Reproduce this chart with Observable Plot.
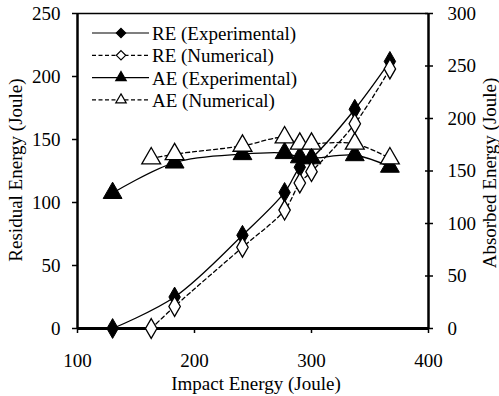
<!DOCTYPE html>
<html>
<head>
<meta charset="utf-8">
<script src="https://cdn.jsdelivr.net/npm/d3@7"></script>
<script src="https://cdn.jsdelivr.net/npm/@observablehq/plot@0.6"></script>
<style>
  body { margin: 0; background: #fff; }
  svg { font-family: "Liberation Serif", "Times New Roman", serif; }
</style>
</head>
<body>
<div id="chart"></div>
<script>
// Impact tests: residual energy (left axis) and absorbed energy (right axis)
const impactExp = [130, 183, 241, 277, 290, 300, 337, 367];
const impactNum = [163, 183, 241, 277, 290, 300, 337, 367];
const residualExp = [0, 25, 74, 108, 128, 135, 174, 212];
const residualNum = [0, 17.5, 64.5, 94, 115.5, 124.5, 162.5, 206];
const absorbedExp = [129, 158, 166, 167, 163, 162, 165, 154];
const absorbedNum = [162, 166, 174, 182, 176, 176, 176, 162];

const xTicks = [100, 200, 300, 400];
const leftTicks = [0, 50, 100, 150, 200, 250];
const rightTicks = [0, 50, 100, 150, 200, 250, 300];
const seriesNames = ["RE (Experimental)", "RE (Numerical)", "AE (Experimental)", "AE (Numerical)"];

// right axis values are drawn on the left scale, 300 on the right = 250 on the left
const k = 250 / 300;

const toRows = (name, xs, ys, scale) => xs.map((x, i) => ({series: name, x, y: ys[i] * scale}));
const reExp = toRows(seriesNames[0], impactExp, residualExp, 1);
const reNum = toRows(seriesNames[1], impactNum, residualNum, 1);
const aeExp = toRows(seriesNames[2], impactExp, absorbedExp, k);
const aeNum = toRows(seriesNames[3], impactNum, absorbedNum, k);

const dash = "4,3";
const lw = 1.3;
const serif = "'Liberation Serif', 'Times New Roman', serif";

const chart = Plot.plot({
  width: 499,
  height: 396,
  marginLeft: 77,
  marginRight: 71,
  marginTop: 13,
  marginBottom: 68,
  style: {fontFamily: serif, fontSize: "19px", color: "black", background: "white"},
  x: {domain: [100, 400]},
  y: {domain: [0, 250]},
  marks: [
    // axes
    Plot.axisX(xTicks, {anchor: "bottom", tickSize: 5, tickPadding: 20, label: null, strokeWidth: 1.5}),
    Plot.axisY(leftTicks, {anchor: "left", tickSize: 5, tickPadding: 12, label: null, strokeWidth: 1.5}),
    Plot.axisY(rightTicks.map(v => v * k), {
      anchor: "right", tickSize: 8, dx: -4, tickPadding: 15, label: null, strokeWidth: 1.5,
      tickFormat: v => String(Math.round(v / k))
    }),
    // frame
    Plot.ruleY([250], {stroke: "black", strokeWidth: 1.3}),
    Plot.ruleX([100, 400], {stroke: "black", strokeWidth: 2.5}),
    Plot.ruleY([0], {stroke: "black", strokeWidth: 3}),
    // axis titles
    Plot.text(["Impact Energy (Joule)"], {frameAnchor: "bottom", dy: 61, dx: 3, lineAnchor: "bottom", fontSize: 19, fill: "black"}),
    Plot.text(["Residual Energy (Joule)"], {frameAnchor: "left", textAnchor: "middle", rotate: -90, dx: -62, dy: -1, lineAnchor: "middle", fontSize: 19, fill: "black"}),
    Plot.text(["Absorbed Energy (Joule)"], {frameAnchor: "right", textAnchor: "middle", rotate: -90, dx: 61, dy: 2, lineAnchor: "middle", fontSize: 19, fill: "black"}),
    // smoothed lines
    Plot.line(aeExp, {x: "x", y: "y", curve: "catmull-rom", stroke: "black", strokeWidth: lw}),
    Plot.line(aeNum, {x: "x", y: "y", curve: "catmull-rom", stroke: "black", strokeWidth: lw, strokeDasharray: dash}),
    Plot.line(reExp, {x: "x", y: "y", curve: "catmull-rom", stroke: "black", strokeWidth: lw}),
    Plot.line(reNum, {x: "x", y: "y", curve: "catmull-rom", stroke: "black", strokeWidth: lw, strokeDasharray: dash}),
    // markers
    Plot.dot(aeExp, {x: "x", y: "y", symbol: "triangle", r: 7, fill: "black", stroke: "black", strokeWidth: 1}),
    Plot.dot(aeNum, {x: "x", y: "y", symbol: "triangle", r: 7, fill: "white", stroke: "black", strokeWidth: 1.3}),
    Plot.dot(reExp, {x: "x", y: "y", symbol: "diamond", r: 6, fill: "black", stroke: "black", strokeWidth: 1}),
    Plot.dot(reNum, {x: "x", y: "y", symbol: "diamond", r: 6, fill: "white", stroke: "black", strokeWidth: 1.3})
  ]
});

// legend in the upper-left corner of the plot area
const legendStyles = [
  {dash: null, symbol: d3.symbolDiamond2, r: 4.2, fill: "black"},
  {dash: "4,2.5", symbol: d3.symbolDiamond2, r: 4.2, fill: "white"},
  {dash: null, symbol: d3.symbolTriangle2, r: 5, fill: "black"},
  {dash: "4,2.5", symbol: d3.symbolTriangle2, r: 5, fill: "white"}
];
const ml = 77, mt = 13;
const legend = d3.select(chart).append("g").attr("class", "legend")
  .attr("text-anchor", "start").attr("font-family", serif);
seriesNames.forEach((name, i) => {
  const s = legendStyles[i];
  const cy = mt + 20 + i * 22.3;
  const row = legend.append("g").attr("transform", `translate(${ml},${cy})`);
  row.append("line")
    .attr("x1", 15).attr("x2", 72).attr("y1", 0).attr("y2", 0)
    .attr("stroke", "black").attr("stroke-width", 1.2)
    .attr("stroke-dasharray", s.dash);
  row.append("path")
    .attr("transform", "translate(44,0)")
    .attr("d", d3.symbol(s.symbol, Math.PI * s.r * s.r)())
    .attr("fill", s.fill).attr("stroke", "black").attr("stroke-width", 1.2);
  row.append("text")
    .attr("x", 75).attr("y", 7)
    .attr("text-anchor", "start")
    .attr("font-size", 19).attr("fill", "black")
    .text(name);
});

document.getElementById("chart").append(chart);
</script>
</body>
</html>
